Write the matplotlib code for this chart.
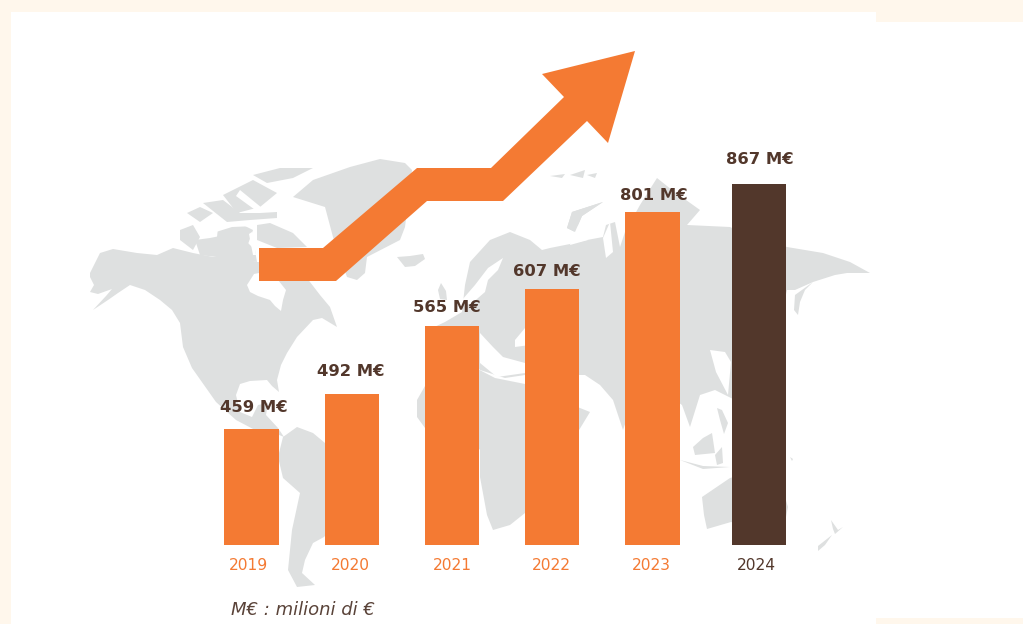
import numpy as np
import matplotlib
matplotlib.use("Agg")
import matplotlib.pyplot as plt
from matplotlib.patches import Polygon, Rectangle

# what the bars and labels say
years = ["2019", "2020", "2021", "2022", "2023", "2024"]
values = [459, 492, 565, 607, 801, 867]
# the bars in the picture are not in proportion to the values, so heights are read separately
bar_heights = [116, 151, 219, 256, 333, 361]

ORANGE = "#F47A33"
BROWN = "#52372B"
GREY = "#DEE0E0"
CREAM = "#FFF7EC"

# background map, outlines traced by hand in picture pixels
north_america = [(90, 273), (100, 253), (113, 249), (137, 253), (157, 255), (173, 248), (193, 253), (213, 257),
                 (237, 257), (257, 262), (270, 262), (300, 270), (310, 282), (320, 295), (330, 307), (337, 327),
                 (322, 318), (313, 320), (297, 337), (287, 353), (281, 365), (277, 380), (279, 392), (272, 386),
                 (267, 380), (250, 381), (240, 384), (236, 395), (240, 412), (252, 417), (258, 405), (268, 403),
                 (266, 415), (278, 428), (284, 437), (272, 432), (255, 430), (236, 420), (216, 402), (204, 385),
                 (192, 368), (183, 347), (180, 323), (172, 310), (160, 300), (145, 290), (130, 285), (118, 293),
                 (108, 300), (93, 310), (106, 296), (112, 289), (98, 294), (90, 292), (94, 285), (90, 277)]
hudson_bay = [(247, 285), (254, 274), (264, 272), (278, 280), (286, 290), (283, 300), (281, 311), (275, 306),
              (270, 300), (258, 296), (250, 292)]
greenland = [(293, 197), (313, 180), (350, 167), (380, 159), (405, 163), (412, 170), (405, 227), (400, 240),
             (367, 257), (365, 273), (357, 280), (347, 277), (333, 237), (325, 207)]
iceland = [(397, 257), (410, 256), (423, 254), (425, 259), (415, 266), (405, 267)]
arctic_islands = [
    [(257, 225), (270, 223), (293, 233), (307, 247), (277, 248), (257, 240)],
    [(180, 230), (193, 225), (200, 237), (193, 250), (180, 240)],
    [(195, 240), (210, 238), (225, 235), (245, 240), (255, 250), (257, 262), (200, 255)],
    [(218, 228), (243, 225), (253, 230), (247, 247), (227, 245), (217, 237)],
    [(223, 195), (253, 180), (277, 193), (260, 207), (237, 213)],
    [(253, 175), (280, 168), (313, 168), (293, 178), (267, 183)],
    [(187, 213), (200, 207), (213, 213), (200, 222)],
    [(203, 203), (223, 200), (240, 213), (260, 213), (277, 212), (277, 218), (250, 220), (227, 222)],
]
arctic_channels = [
    [(213, 228), (232, 224), (256, 222), (256, 226), (232, 227), (216, 232)],
    [(240, 190), (262, 208), (258, 212), (236, 196)],
    [(252, 232), (256, 255), (253, 255), (249, 234)],
]
eurasia = [(445, 322), (462, 312), (465, 285), (470, 262), (490, 240), (510, 232), (530, 240), (542, 250),
           (550, 248), (570, 244), (587, 240), (603, 237), (606, 225), (615, 222), (620, 247), (625, 232),
           (640, 205), (657, 178), (672, 190), (700, 210), (687, 225), (730, 227), (760, 240), (787, 247),
           (823, 253), (850, 262), (870, 273), (847, 273), (835, 275), (813, 282), (795, 290), (787, 290),
           (780, 320), (770, 350), (760, 380), (735, 400), (715, 390), (700, 395), (690, 427), (682, 405),
           (668, 395), (650, 385), (635, 395), (623, 430), (613, 400), (600, 385), (585, 375), (570, 375),
           (545, 395), (525, 375), (505, 378), (480, 370), (462, 350), (445, 345), (430, 345), (428, 330)]
white_seas = [
    # baltic and gulf of bothnia
    [(503, 258), (498, 270), (488, 280), (485, 292), (470, 305), (462, 300), (475, 285), (488, 268)],
    # mediterranean
    [(480, 333), (493, 347), (503, 357), (525, 363), (525, 373), (497, 377), (480, 363)],
    # black sea
    [(515, 340), (525, 328), (530, 345), (515, 347)],
    # white sea and kara sea notches
    [(570, 245), (575, 228), (603, 202), (580, 225), (588, 240)],
    [(603, 238), (610, 222), (613, 252), (606, 258)],
    # yellow sea
    [(710, 350), (725, 352), (731, 362), (728, 395), (716, 372)],
    # bay of bengal
    [(640, 400), (655, 392), (672, 400), (683, 430), (660, 430), (633, 440)],
]
uk = [(438, 290), (441, 283), (446, 291), (447, 300), (440, 299)]
novaya = [(567, 228), (572, 212), (603, 202), (582, 216), (575, 232)]
africa = [(417, 400), (425, 386), (440, 365), (470, 365), (495, 378), (530, 385), (560, 400), (590, 412),
          (570, 445), (555, 470), (525, 513), (510, 525), (493, 530), (487, 515), (480, 477), (480, 450),
          (465, 432), (440, 432), (425, 428), (417, 417)]
south_america = [(283, 437), (297, 427), (313, 433), (325, 443), (355, 462), (350, 490), (340, 520), (324, 537),
                 (313, 543), (305, 560), (302, 573), (315, 585), (297, 587), (288, 570), (292, 530), (300, 493),
                 (283, 478), (278, 457)]
kamchatka = [(813, 282), (805, 290), (800, 302), (798, 315), (794, 310), (795, 295)]
svalbard = [[(550, 176), (565, 174), (562, 178)], [(570, 175), (585, 170), (583, 178)], [(587, 175), (597, 173), (595, 178)]]
asia_islands = [
    [(693, 447), (703, 438), (712, 433), (715, 453), (695, 455)],
    [(717, 408), (722, 410), (728, 423), (724, 434), (720, 420)],
    [(715, 455), (722, 447), (723, 463), (717, 465)],
    [(680, 460), (703, 466), (730, 467), (703, 469)],
    [(790, 457), (793, 459), (792, 461)],
]
australia = [(702, 497), (730, 478), (760, 470), (785, 497), (788, 507), (785, 522), (770, 530), (731, 522),
             (707, 529), (704, 515)]
new_zealand = [[(831, 520), (838, 530), (843, 527), (835, 534), (833, 529)], [(832, 535), (825, 545), (818, 551), (818, 546)]]

fig = plt.figure(figsize=(10.23, 6.24), dpi=100, facecolor=CREAM)
ax = fig.add_axes([0, 0, 1, 1])
ax.set_xlim(0, 1023)
ax.set_ylim(624, 0)
ax.axis("off")

ax.add_patch(Rectangle((11, 12), 865, 612, color="white", lw=0, zorder=0))
ax.add_patch(Rectangle((876, 22), 147, 596, color="white", lw=0, zorder=0))

land = [north_america, greenland, iceland, eurasia, uk, novaya, africa, south_america, kamchatka, australia]
land += arctic_islands + svalbard + asia_islands + new_zealand
for shape in land:
    ax.add_patch(Polygon(shape, closed=True, fc=GREY, ec="none", zorder=1))
for shape in white_seas + arctic_channels + [hudson_bay]:
    ax.add_patch(Polygon(shape, closed=True, fc="white", ec="none", zorder=2))
ax.add_patch(Polygon(novaya, closed=True, fc=GREY, ec="none", zorder=3))

# the big arrow
arrow = [(259, 248), (323, 248), (417, 168), (491, 168), (564, 97), (542, 74), (635, 51), (608, 143),
         (587, 121), (503, 201), (427, 201), (336, 281), (259, 281)]
ax.add_patch(Polygon(arrow, closed=True, fc=ORANGE, ec="none", zorder=4))

# bars on their own axes, one unit of height is one pixel
ax2 = fig.add_axes([0, 0, 1, 1])
ax2.patch.set_alpha(0)
ax2.axis("off")
ax2.set_xlim(-251.5 / 100.25, (1023 - 251.5) / 100.25)
ax2.set_ylim(-79, 545)

x = np.array([0, 1, 2, 3, 4, 5.06])
colors = [ORANGE] * 5 + [BROWN]
ax2.bar(x, bar_heights, width=0.54, color=colors, linewidth=0)

# labels are not centred on their bars in the picture
label_dx = [0.025, -0.01, -0.05, -0.05, 0.015, 0.015]
label_dy = [21, 22, 18, 18, 17, 25]
year_dx = [-0.025, -0.01, 0.0, -0.01, -0.015, -0.025]
for i in range(len(years)):
    ax2.text(x[i] + label_dx[i], bar_heights[i] + label_dy[i], f"{values[i]} M€", ha="center", va="center",
             fontsize=11.8, fontweight="bold", color=BROWN, family="DejaVu Sans")
    ax2.text(x[i] + year_dx[i], -20, years[i], ha="center", va="center", fontsize=11.2,
             color=colors[i], family="DejaVu Sans")

ax2.text(0.51, -65, "M€ : milioni di €", ha="center", va="center", fontsize=13, style="italic",
         color="#5A4339", family="DejaVu Sans")

plt.savefig("out.png", facecolor=fig.get_facecolor())
